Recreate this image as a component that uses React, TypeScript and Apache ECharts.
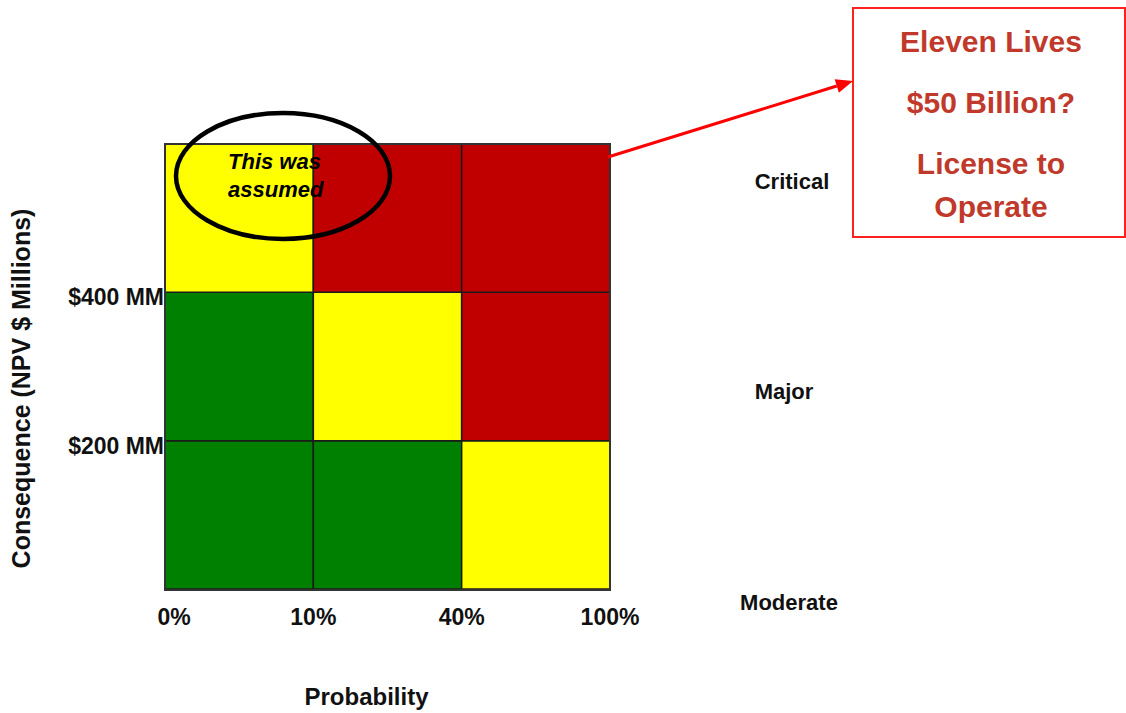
import React, { useEffect, useRef } from "react";
import * as echarts from "echarts";

// Probability boundaries (x) and consequence boundaries (y)
const probabilityLabels = ["0%", "10%", "40%", "100%"];
const consequenceLabels = ["", "$200 MM", "$400 MM", ""];
const severityLabels = ["Moderate", "Major", "Critical"];
// risk matrix, rows from bottom (Moderate) to top (Critical), columns by probability band
const riskRows = [
  ["green", "green", "yellow"],
  ["green", "yellow", "red"],
  ["yellow", "red", "red"],
];
const riskColors: Record<string, string> = { green: "#008000", yellow: "#FFFF00", red: "#C00000" };
const calloutLines = ["Eleven Lives", "$50 Billion?", "License to", "Operate"];
const assumedNote = "This was\nassumed";

const FONT = "Liberation Sans, Arial, sans-serif";

export default function App() {
  const ref = useRef<HTMLDivElement>(null);
  useEffect(() => {
    if (!ref.current) return;
    const chart = echarts.init(ref.current, null, { renderer: "svg" });
    const cells: any[] = [];
    riskRows.forEach((row, r) => row.forEach((c, ci) => cells.push([ci, r, c])));

    const tip = [853, 81];
    const start = [608, 157];
    const dx = tip[0] - start[0], dy = tip[1] - start[1];
    const len = Math.sqrt(dx * dx + dy * dy);
    const ux = dx / len, uy = dy / len;
    const hl = 17, hw = 7;
    const bx = tip[0] - ux * hl, by = tip[1] - uy * hl;
    const px = -uy, py = ux;

    const severityY = [602, 391, 181];
    const severityX = [789, 784, 792];
    const calloutY = [41, 102, 163, 206];

    chart.setOption({
      animation: false,
      backgroundColor: "#ffffff",
      grid: { left: 165, top: 144, width: 445, height: 446, show: false },
      xAxis: {
        type: "value",
        min: 0,
        max: 3,
        interval: 1,
        axisLine: { show: false },
        axisTick: { show: false },
        splitLine: { show: false },
        axisLabel: {
          formatter: (v: number) => (v === 0 ? "{first|" + probabilityLabels[v] + "}" : probabilityLabels[v] ?? ""),
          fontFamily: FONT,
          fontWeight: "bold",
          fontSize: 23,
          color: "#111",
          margin: 16,
          rich: {
            first: { fontFamily: FONT, fontWeight: "bold", fontSize: 23, color: "#111", padding: [0, 0, 0, 18] },
          },
        },
        name: "Probability",
        nameLocation: "middle",
        nameGap: 95,
        nameTextStyle: {
          fontFamily: FONT,
          fontWeight: "bold",
          fontSize: 24,
          color: "#111",
          padding: [0, 42, 0, 0],
        },
      },
      yAxis: {
        type: "value",
        min: 0,
        max: 3,
        interval: 1,
        axisLine: { show: false },
        axisTick: { show: false },
        splitLine: { show: false },
        axisLabel: {
          formatter: (v: number) => (consequenceLabels[v] ? "{a|" + consequenceLabels[v] + "}" : ""),
          fontFamily: FONT,
          fontWeight: "bold",
          fontSize: 23,
          color: "#111",
          margin: 1,
          rich: {
            a: { fontFamily: FONT, fontWeight: "bold", fontSize: 23, color: "#111", padding: [10, 0, 0, 0] },
          },
        },
        name: "Consequence (NPV $ Millions)",
        nameLocation: "middle",
        nameGap: 132,
        nameRotate: 90,
        nameTextStyle: {
          fontFamily: FONT,
          fontWeight: "bold",
          fontSize: 25,
          color: "#111",
          padding: [0, 44, 0, 0],
        },
      },
      series: [
        {
          type: "custom",
          coordinateSystem: "cartesian2d",
          data: cells,
          renderItem: (params: any, api: any) => {
            const x = api.value(0), y = api.value(1);
            const p0 = api.coord([x, y + 1]);
            const p1 = api.coord([x + 1, y]);
            const color = riskColors[cells[params.dataIndex][2]];
            return {
              type: "rect",
              shape: { x: p0[0], y: p0[1], width: p1[0] - p0[0], height: p1[1] - p0[1] },
              style: { fill: color, stroke: "#1a1a1a", lineWidth: 1.5 },
            };
          },
        },
      ],
      graphic: [
        {
          type: "rect",
          z: 90,
          shape: { x: 165, y: 144, width: 445, height: 446 },
          style: { fill: "none", stroke: "#333", lineWidth: 2 },
        },
        {
          type: "ellipse",
          z: 100,
          shape: { cx: 283, cy: 176, rx: 107, ry: 63 },
          style: { fill: "none", stroke: "#000", lineWidth: 4.5 },
        },
        {
          type: "text",
          z: 101,
          x: 228,
          y: 147,
          style: {
            text: assumedNote,
            fontFamily: FONT,
            fontStyle: "italic",
            fontWeight: "bold",
            fontSize: 22,
            lineHeight: 28,
            fill: "#000",
          },
        },
        ...severityLabels.map((s, i) => ({
          type: "text",
          z: 100,
          x: severityX[i],
          y: severityY[i],
          style: {
            text: s,
            fontFamily: FONT,
            fontWeight: "bold",
            fontSize: 22,
            fill: "#111",
            align: "center",
            verticalAlign: "middle",
          },
        })),
        {
          type: "rect",
          z: 100,
          shape: { x: 853, y: 8, width: 272, height: 229 },
          style: { fill: "#fff", stroke: "#FF2020", lineWidth: 2 },
        },
        ...calloutLines.map((t, i) => ({
          type: "text",
          z: 101,
          x: 991,
          y: calloutY[i],
          style: {
            text: t,
            fontFamily: FONT,
            fontWeight: "bold",
            fontSize: 30,
            fill: "#C0392B",
            align: "center",
            verticalAlign: "middle",
          },
        })),
        {
          type: "line",
          z: 100,
          shape: { x1: start[0], y1: start[1], x2: bx, y2: by },
          style: { stroke: "#FF0000", lineWidth: 3 },
        },
        {
          type: "polygon",
          z: 100,
          shape: {
            points: [
              [tip[0], tip[1]],
              [bx + px * hw, by + py * hw],
              [bx - px * hw, by - py * hw],
            ],
          },
          style: { fill: "#FF0000" },
        },
      ],
    });
    return () => chart.dispose();
  }, []);
  return (
    <div
      ref={ref}
      style={{ position: "absolute", left: 0, top: 0, width: 1126, height: 713, background: "#fff" }}
    />
  );
}
